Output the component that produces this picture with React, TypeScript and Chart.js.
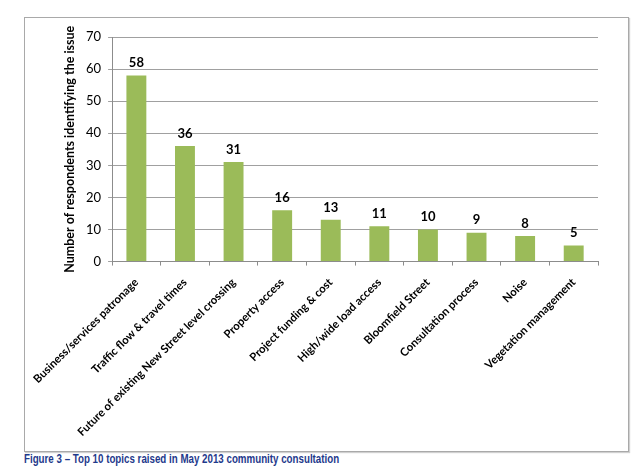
import React, { useEffect, useRef } from "react";
import { Chart, registerables } from "chart.js";

Chart.register(...registerables);

const categories = [
  "Business/services patronage",
  "Traffic flow & travel times",
  "Future of existing New Street level crossing",
  "Property access",
  "Project funding & cost",
  "High/wide load access",
  "Bloomfield Street",
  "Consultation process",
  "Noise",
  "Vegetation management",
];
const respondents = [58, 36, 31, 16, 13, 11, 10, 9, 8, 5];
const yTitle = "Number of respondents identifying the issue";
const caption = "Figure 3 \u2013 Top 10 topics raised in May 2013 community consultation";

const FONT = "Lato, 'Open Sans', sans-serif";

const valueLabels = {
  id: "valueLabels",
  afterDatasetsDraw(chart: any) {
    const ctx = chart.ctx;
    const meta = chart.getDatasetMeta(0);
    ctx.save();
    ctx.font = `bold 13px ${FONT}`;
    ctx.fillStyle = "#000";
    ctx.textAlign = "center";
    ctx.textBaseline = "bottom";
    meta.data.forEach((el: any, i: number) => {
      ctx.fillText(String(chart.data.datasets[0].data[i]), el.x, el.y - 6);
    });
    ctx.restore();
  },
};

export default function App() {
  const ref = useRef<HTMLCanvasElement>(null);
  useEffect(() => {
    if (!ref.current) return;
    const chart = new Chart(ref.current, {
      type: "bar",
      data: {
        labels: categories,
        datasets: [
          {
            data: respondents,
            backgroundColor: "#9BBB59",
            borderWidth: 0,
            barPercentage: 0.41,
            categoryPercentage: 1,
          },
        ],
      },
      options: {
        animation: false,
        responsive: false,
        layout: { padding: { left: 37, right: 30, top: 19, bottom: 2 } },
        plugins: { legend: { display: false }, tooltip: { enabled: false } },
        scales: {
          x: {
            afterFit: (scale: any) => {
              scale.paddingLeft = 0;
            },
            grid: {
              drawOnChartArea: false,
              drawTicks: true,
              tickLength: 4,
              offset: true,
              color: "#8c8c8c",
            },
            border: { color: "#8c8c8c" },
            ticks: {
              maxRotation: 45,
              minRotation: 45,
              autoSkip: false,
              color: "#000",
              padding: 10,
              font: { family: FONT, size: 11.3, weight: "bold" },
            },
          },
          y: {
            min: 0,
            max: 70,
            grid: { color: "#a0a0a0", tickLength: 4 },
            border: { color: "#8c8c8c" },
            ticks: {
              stepSize: 10,
              color: "#000",
              padding: 7,
              font: { family: FONT, size: 13 },
            },
            title: {
              display: true,
              text: yTitle,
              color: "#000",
              padding: { top: 0, bottom: 2 },
              font: { family: FONT, size: 12.5, weight: "bold" },
            },
          },
        },
      },
      plugins: [valueLabels],
    });
    return () => chart.destroy();
  }, []);

  return (
    <div style={{ position: "absolute", left: 0, top: 0, width: 643, height: 474, background: "#fff" }}>
      <div
        style={{
          position: "absolute",
          left: 24,
          top: 17,
          width: 603,
          height: 433,
          border: "1px solid #a9a9a9",
          boxShadow: "1px 1px 1px #d0d0d0",
        }}
      >
        <canvas ref={ref} width={603} height={433} style={{ display: "block" }} />
      </div>
      <div
        style={{
          position: "absolute",
          left: 24,
          top: 452,
          fontFamily: "'Liberation Sans', Arial, sans-serif",
          fontWeight: "bold",
          fontSize: 12.5,
          color: "#1F3A8C",
          whiteSpace: "nowrap",
          transform: "scaleX(0.78)",
          transformOrigin: "left top",
        }}
      >
        {caption}
      </div>
    </div>
  );
}
